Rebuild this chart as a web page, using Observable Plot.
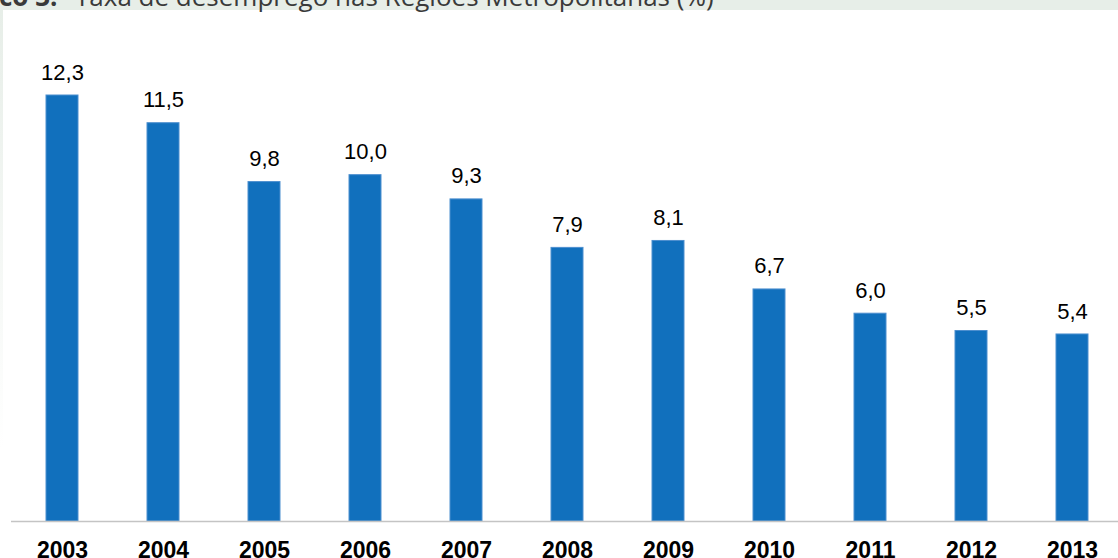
<!DOCTYPE html>
<html>
<head>
<meta charset="utf-8">
<script src="https://cdn.jsdelivr.net/npm/d3@7"></script>
<script src="https://cdn.jsdelivr.net/npm/@observablehq/plot@0.6"></script>
<style>
  html, body { margin: 0; padding: 0; background: #fff; }
  #wrap { position: relative; width: 1118px; height: 558px; overflow: hidden; background: #fff; }
  #band { position: absolute; left: 0; top: 0; width: 1118px; height: 10px; background: #e7eee8; }
  #strip { position: absolute; left: 0; top: 10px; width: 3px; height: 548px;
           background: linear-gradient(#e7eee8, #ffffff 80%); }
  #title { position: absolute; top: -17px; left: 0; white-space: nowrap;
           font-family: "Open Sans", sans-serif; font-size: 26px; line-height: 1; color: #3a3a3a; }
  #title b { font-weight: 700; }
  #rest { display: inline-block; }
  #chart { position: absolute; left: 0; top: 0; }
</style>
</head>
<body>
<div id="wrap">
  <div id="band"></div>
  <div id="strip"></div>
  <div id="title"><b><span id="hidden">Gráfi</span>co 3:</b> <span id="rest">Taxa de desemprego nas Regiões Metropolitanas (%)</span></div>
  <div id="chart"></div>
</div>
<script>
const years = ["2003","2004","2005","2006","2007","2008","2009","2010","2011","2012","2013"];
const values = [12.3, 11.5, 9.8, 10.0, 9.3, 7.9, 8.1, 6.7, 6.0, 5.5, 5.4];

const data = years.map((y, i) => ({year: y, value: values[i]}));
const fmt = v => v.toFixed(1).replace(".", ",");

// shift title so that "co 3:" starts at the left edge (the rest is cut off as in the reference)
const hid = document.getElementById("hidden");
const t = document.getElementById("title");
t.style.left = (-hid.getBoundingClientRect().width - 1) + "px";
const rest = document.getElementById("rest");
const shift = 75 - rest.getBoundingClientRect().left;
if (shift > 0) rest.style.marginLeft = shift + "px";

const chart = Plot.plot({
  width: 1118,
  height: 558,
  marginLeft: 11,
  marginRight: 0,
  marginTop: 0,
  marginBottom: 37,
  style: {fontFamily: "'Liberation Sans', Arial, sans-serif", background: "transparent", color: "#000"},
  x: {domain: years, range: [11.5, 1123.5], paddingInner: 0.683, paddingOuter: 0.3415, label: null},
  y: {domain: [0, d3.max(values)], range: [521, 95], axis: null},
  marks: [
    Plot.barY(data, {x: "year", y: "value", fill: "#1170bd", stroke: "#4d8fcf", strokeWidth: 1}),
    Plot.ruleY([0], {stroke: "#c4c4c4", strokeWidth: 1.5}),
    Plot.text(data, {x: "year", y: "value", text: d => fmt(d.value), dy: -23, fontSize: 22, fill: "#000"}),
    Plot.axisX({tickSize: 0, tickPadding: 20, fontSize: 23, fontWeight: "bold", fill: "#000", label: null})
  ]
});
document.getElementById("chart").appendChild(chart);
</script>
</body>
</html>
